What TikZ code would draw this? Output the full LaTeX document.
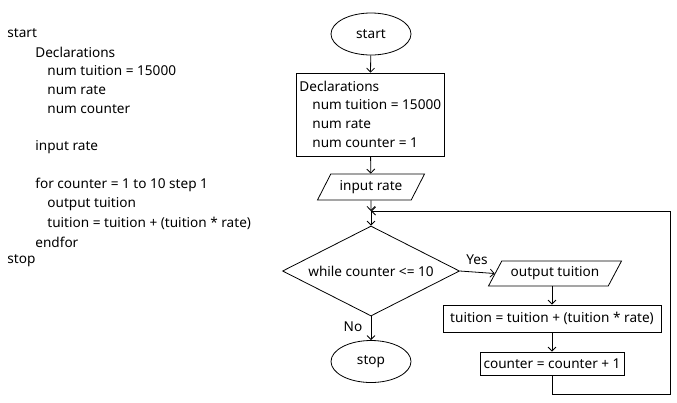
\documentclass[tikz,border=0pt]{standalone}
\usepackage{fontspec}
\setmainfont{Noto Sans}
\usetikzlibrary{shapes.geometric,arrows.meta}
\begin{document}
\begin{tikzpicture}[x=1bp,y=-1bp, line width=0.8bp,
  every node/.style={font=\fontsize{13.6bp}{19bp}\selectfont, inner sep=0pt},
  code/.style={anchor=west},
  term/.style={draw, ellipse, minimum width=80bp, minimum height=42bp},
  proc/.style={draw, rectangle},
  io/.style={draw, trapezium, trapezium left angle=45, trapezium right angle=135, trapezium stretches body},
  dec/.style={draw, diamond, aspect=1.97, minimum width=177bp, minimum height=90bp},
  arr/.style={-{Straight Barb[length=4bp,width=8bp]}}
]
\useasboundingbox (0,0) rectangle (677,402);
% pseudocode
\node[code] (p1) at (7,33) {start};
\node[code] (p2) at (35,52) {Declarations};
\node[code] (p3) at (47,71) {num tuition = 15000};
\node[code] (p4) at (47,90) {num rate};
\node[code] (p5) at (47,109) {num counter};
\node[code] (p6) at (35,147) {input rate};
\node[code] (p7) at (35,185) {for counter = 1 to 10 step 1};
\node[code] (p8) at (47,204) {output tuition};
\node[code] (p9) at (47,223) {tuition = tuition + (tuition * rate)};
\node[code] (p10) at (35,242) {endfor};
\node[code] (p11) at (7,261) {stop};
% flowchart
\node[term] (start) at (371,34) {start};
\node[proc, minimum width=148bp, minimum height=83bp] (decl) at (370,114.5) {};
\node[code] (d1) at (299,86) {Declarations};
\node[code] (d2) at (312,105) {num tuition = 15000};
\node[code] (d3) at (312,124) {num rate};
\node[code] (d4) at (312,143) {num counter = 1};
\node[io, minimum width=107bp, minimum height=26bp] (input) at (371,187) {input rate};
\coordinate (merge) at (371,211);
\node[dec] (while) at (371,271) {while counter <= 10};
\node[io, minimum width=133bp, minimum height=25bp] (out) at (555,273.5) {output tuition};
\node[proc, minimum width=218bp, minimum height=27bp] (calc) at (552,318.5) {tuition = tuition + (tuition * rate)};
\node[proc, minimum width=144bp, minimum height=23bp] (cnt) at (552,363.5) {counter = counter + 1};
\node[term] (stop) at (371,361.5) {stop};
\coordinate (c1) at (552,394);
\coordinate (c2) at (670,394);
\coordinate (c3) at (670,211);
\node (yes) at (477,260) {Yes};
\node (no) at (353,327) {No};
% connectors
\draw[arr] (start) -- (decl);
\draw[arr] (decl) -- (input);
\draw[arr] (input) -- (merge);
\draw[arr] (merge) -- (while);
\draw[arr] (while.east) -- (out.west);
\draw[arr] (out.south -| calc) -- (calc);
\draw[arr] (calc) -- (cnt);
\draw[arr] (cnt.south) -- (c1) -- (c2) -- (c3) -- (merge);
\draw[arr] (while.south) -- (stop);
\end{tikzpicture}
\end{document}
